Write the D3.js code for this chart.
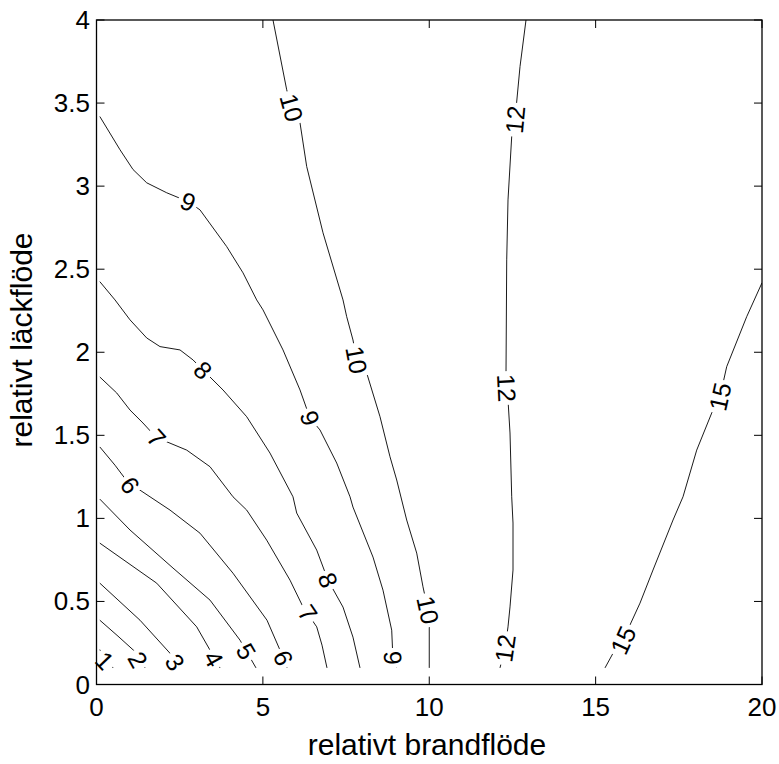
<!DOCTYPE html>
<html>
<head>
<meta charset="utf-8">
<script src="https://cdn.jsdelivr.net/npm/d3@7"></script>
<style>
  html, body { margin: 0; padding: 0; background: #fff; }
  svg { display: block; }
  text { font-family: "Liberation Sans", Arial, Helvetica, sans-serif; fill: #000; }
</style>
</head>
<body>
<svg id="chart" width="779" height="764"></svg>
<script>
// ---------------- data ----------------
const xTicks = [0, 5, 10, 15, 20];
const yTicks = [0, 0.5, 1, 1.5, 2, 2.5, 3, 3.5, 4];
const xTitle = "relativt brandflöde";
const yTitle = "relativt läckflöde";

// contour lines: [relativt brandflöde, relativt läckflöde]
const contour1 = [[0.1,0.21],[0.26,0.15],[0.5,0.1]];
const contour2 = [[0.1,0.387],[0.646,0.291],[1.208,0.189],[1.458,0.1]];
const contour3 = [[0.1,0.61],[1.307,0.387],[2.26,0.177],[2.509,0.1]];
const contour4 = [[0.1,0.851],[1.809,0.61],[3.011,0.347],[3.411,0.207],[3.711,0.1]];
const contour5 = [[0.1,1.116],[1.007,0.93],[2.299,0.701],[3.411,0.508],[4.313,0.267],[4.793,0.1]];
const contour6 = [[0.1,1.43],[0.556,1.32],[1.007,1.2],[1.307,1.17],[2.209,1.05],[3.11,0.911],
                  [4.102,0.67],[5.124,0.387],[5.515,0.207],[5.725,0.1]];
const contour7 = [[0.1,1.851],[0.607,1.755],[1.007,1.652],[1.397,1.574],[1.809,1.484],[2.11,1.461],
                  [2.711,1.411],[3.411,1.311],[4.102,1.13],[4.514,1.05],[5.115,0.869],[5.816,0.628],
                  [6.206,0.467],[6.618,0.347],[6.777,0.237],[6.927,0.1]];
const contour8 = [[0.1,2.425],[0.556,2.315],[1.007,2.195],[1.509,2.086],[1.908,2.034],[2.509,2.014],
                  [2.9,1.954],[3.201,1.893],[3.802,1.773],[4.514,1.612],[5.214,1.393],[5.905,1.13],
                  [6.017,1.032],[6.618,0.809],[6.957,0.628],[7.408,0.466],[7.708,0.285],[7.919,0.1]];
const contour9 = [[0.1,3.419],[0.706,3.219],[1.097,3.1],[1.509,3.02],[2.11,2.96],[2.75,2.907],
                  [3.11,2.857],[3.913,2.636],[4.403,2.478],[4.814,2.315],[5.004,2.255],[5.605,2.014],
                  [6.116,1.773],[6.416,1.604],[6.717,1.532],[7.219,1.333],[7.619,1.13],[7.708,1.068],
                  [8.31,0.767],[8.61,0.568],[8.872,0.327],[8.911,0.146],[9.022,0.1]];
const contour10 = [[5.304,4.0],[5.716,3.58],[5.866,3.472],[6.116,3.381],[6.317,3.118],[6.807,2.719],
                   [7.408,2.315],[7.519,2.214],[7.708,2.074],[7.82,1.954],[8.12,1.875],[8.52,1.612],
                   [8.82,1.371],[9.022,1.231],[9.322,0.99],[9.623,0.791],[9.812,0.588],[9.962,0.448],
                   [10.0,0.369],[10.0,0.1]];
const contour12 = [[12.908,4.0],[12.728,3.72],[12.577,3.4],[12.478,3.299],[12.367,2.917],[12.328,2.556],
                   [12.307,1.875],[12.328,1.785],[12.367,1.713],[12.427,1.514],[12.478,1.13],[12.517,0.972],
                   [12.517,0.689],[12.427,0.467],[12.367,0.347],[12.277,0.219],[12.126,0.1]];
const contour15 = [[20.0,2.418],[19.54,2.214],[18.939,1.913],[18.738,1.733],[18.488,1.634],[18.038,1.411],
                   [17.626,1.13],[17.326,0.99],[16.724,0.689],[16.334,0.49],[15.823,0.267],[15.522,0.188],
                   [15.282,0.1]];

const contourLevels = [1, 2, 3, 4, 5, 6, 7, 8, 9, 10, 12, 15];
const contourData = [contour1, contour2, contour3, contour4, contour5, contour6,
                     contour7, contour8, contour9, contour10, contour12, contour15];

// label anchor points (on the lines) for each level
const labels1 = [[0.25,0.145]];
const labels2 = [[1.247,0.15]];
const labels3 = [[2.36,0.135]];
const labels4 = [[3.52,0.155]];
const labels5 = [[4.5,0.2]];
const labels6 = [[1.007,1.2],[5.62,0.16]];
const labels7 = [[1.809,1.484],[6.35,0.43]];
const labels8 = [[3.201,1.893],[6.957,0.628]];
const labels9 = [[2.75,2.907],[6.416,1.604],[8.911,0.16]];
const labels10 = [[5.866,3.472],[7.82,1.954],[9.962,0.448]];
const labels12 = [[12.577,3.4],[12.328,1.785],[12.277,0.219]];
const labels15 = [[18.738,1.733],[15.823,0.267]];
const labelData = [labels1, labels2, labels3, labels4, labels5, labels6,
                   labels7, labels8, labels9, labels10, labels12, labels15];

// ---------------- drawing ----------------
(function () {
const svg = d3.select("#chart");
const pLeft = 96.5, pRight = 762, pTop = 20, pBottom = 684.5;

const x = d3.scaleLinear().domain([0, 20]).range([pLeft, pRight]);
const y = d3.scaleLinear().domain([0, 4]).range([pBottom, pTop]);

svg.append("defs").append("clipPath").attr("id", "plotclip")
  .append("rect").attr("x", pLeft).attr("y", pTop)
  .attr("width", pRight - pLeft).attr("height", pBottom - pTop);

const plot = svg.append("g").attr("clip-path", "url(#plotclip)");

const line = d3.line().x(d => x(d[0])).y(d => y(d[1]));

contourData.forEach(pts => {
  plot.append("path")
    .attr("d", line(pts))
    .attr("fill", "none")
    .attr("stroke", "#000")
    .attr("stroke-width", 0.9);
});

function angleAt(pts, p) {
  const px = x(p[0]), py = y(p[1]);
  let best = Infinity, ang = 0;
  for (let i = 0; i < pts.length - 1; i++) {
    const ax = x(pts[i][0]), ay = y(pts[i][1]);
    const bx = x(pts[i+1][0]), by = y(pts[i+1][1]);
    const dx = bx - ax, dy = by - ay;
    const L2 = dx*dx + dy*dy;
    let t = L2 > 0 ? ((px-ax)*dx + (py-ay)*dy) / L2 : 0;
    t = Math.max(0, Math.min(1, t));
    const cx = ax + t*dx, cy = ay + t*dy;
    const d = (px-cx)*(px-cx) + (py-cy)*(py-cy);
    if (d < best) { best = d; ang = Math.atan2(dy, dx) * 180 / Math.PI; }
  }
  if (ang > 90) ang -= 180;
  if (ang <= -90) ang += 180;
  return ang;
}

const labelLayer = svg.append("g");
contourLevels.forEach((lev, i) => {
  labelData[i].forEach(p => {
    const a = angleAt(contourData[i], p);
    const g = labelLayer.append("g")
      .attr("transform", `translate(${x(p[0])},${y(p[1])}) rotate(${a})`);
    const rect = g.append("rect").attr("fill", "#fff");
    const t = g.append("text")
      .attr("text-anchor", "middle")
      .attr("dominant-baseline", "central")
      .style("font-size", "25px")
      .text(lev);
    const bb = t.node().getBBox();
    rect.attr("x", bb.x - 3).attr("y", bb.y + 3)
      .attr("width", bb.width + 6).attr("height", bb.height - 6);
  });
});

const axesG = svg.append("g");
axesG.append("rect")
  .attr("x", pLeft).attr("y", pTop)
  .attr("width", pRight - pLeft).attr("height", pBottom - pTop)
  .attr("fill", "none").attr("stroke", "#000").attr("stroke-width", 1.3);

const tickLen = 8;
xTicks.forEach(v => {
  axesG.append("line").attr("x1", x(v)).attr("x2", x(v))
    .attr("y1", pBottom).attr("y2", pBottom - tickLen).attr("stroke", "#000");
  axesG.append("line").attr("x1", x(v)).attr("x2", x(v))
    .attr("y1", pTop).attr("y2", pTop + tickLen).attr("stroke", "#000");
  axesG.append("text")
    .attr("x", x(v)).attr("y", 716)
    .attr("text-anchor", "middle")
    .style("font-size", "26px")
    .text(v);
});
yTicks.forEach(v => {
  axesG.append("line").attr("x1", pLeft).attr("x2", pLeft + tickLen)
    .attr("y1", y(v)).attr("y2", y(v)).attr("stroke", "#000");
  axesG.append("line").attr("x1", pRight).attr("x2", pRight - tickLen)
    .attr("y1", y(v)).attr("y2", y(v)).attr("stroke", "#000");
  axesG.append("text")
    .attr("x", 90).attr("y", y(v))
    .attr("text-anchor", "end")
    .attr("dominant-baseline", "central")
    .style("font-size", "26px")
    .text(v);
});

svg.append("text")
  .attr("x", 427).attr("y", 755)
  .attr("text-anchor", "middle")
  .style("font-size", "30px")
  .text(xTitle);

svg.append("text")
  .attr("transform", "translate(32,340) rotate(-90)")
  .attr("text-anchor", "middle")
  .style("font-size", "30px")
  .text(yTitle);
})();
</script>
</body>
</html>
